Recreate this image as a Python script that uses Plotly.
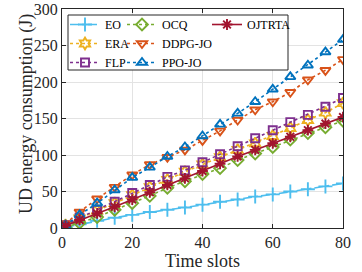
import plotly.graph_objects as go

x_slots = [1, 5, 10, 15, 20, 25, 30, 35, 40, 45, 50, 55, 60, 65, 70, 75, 80]
eo = [1, 5, 10, 14, 18, 22, 25, 28, 32, 36, 39, 43, 46, 50, 53, 57, 61]
era = [4, 13, 24, 34, 45, 56, 66, 77, 87, 97, 107, 116, 126, 137, 148, 158, 171]
flp = [4, 14, 25, 36, 48, 59, 70, 79, 90, 101, 112, 123, 134, 145, 155, 166, 178]
ocq = [1, 7, 15, 25, 34, 44, 55, 64, 74, 82, 93, 102, 111, 121, 130, 138, 147]
ddpg = [6, 22, 40, 56, 73, 87, 97, 107, 120, 133, 148, 162, 173, 186, 203, 216, 231]
ppo = [4, 18, 34, 52, 69, 83, 98, 111, 126, 142, 157, 173, 190, 207, 223, 241, 258]
ojtrta = [3, 11, 20, 29, 39, 49, 59, 68, 78, 88, 98, 107, 116, 125, 134, 143, 152]

x_ticks = [0, 20, 40, 60, 80]
y_ticks = [0, 50, 100, 150, 200, 250, 300]

series = [
    ("EO", eo, "#4DBEEE", "cross-thin-open", 10, "dashdot", "legend"),
    ("ERA", era, "#EDB120", "hexagram-open", 9, "dot", "legend"),
    ("FLP", flp, "#7E2F8E", "square-open", 8, "dot", "legend"),
    ("OCQ", ocq, "#77AC30", "diamond-open", 9, "dot", "legend2"),
    ("DDPG-JO", ddpg, "#D95319", "triangle-down-open", 9, "dot", "legend2"),
    ("PPO-JO", ppo, "#0072BD", "triangle-up-open", 9, "dot", "legend2"),
    ("OJTRTA", ojtrta, "#A2142F", "asterisk-open", 9, "solid", "legend3"),
]

fig = go.Figure()
for name, vals, col, sym, sz, dash, lg in series:
    fig.add_trace(go.Scatter(
        x=x_slots, y=vals, name=name, mode="lines+markers",
        line=dict(color=col, width=1.6, dash=dash),
        marker=dict(symbol=sym, size=sz, color=col, line=dict(color=col, width=1.9)),
        legend=lg,
    ))

W, H = 362, 272
L, R, T, B = 62, 19, 9, 44
pw, ph = W - L - R, H - T - B

def px2x(p):
    return (p - L) / pw

def px2y(p):
    return 1 - (p - T) / ph

font = dict(family="Liberation Serif", color="#262626")
leg_common = dict(orientation="v", bgcolor="rgba(0,0,0,0)", borderwidth=0,
                  font=dict(family="Liberation Serif", size=12, color="#000000"),
                  yanchor="top", xanchor="left", itemwidth=30, tracegroupgap=0)

fig.update_layout(
    width=W, height=H,
    margin=dict(l=L, r=R, t=T, b=B, pad=0, autoexpand=False),
    paper_bgcolor="white", plot_bgcolor="white",
    font=font,
    legend=dict(x=px2x(65), y=px2y(10), **leg_common),
    legend2=dict(x=px2x(122), y=px2y(10), **leg_common),
    legend3=dict(x=px2x(207), y=px2y(10), **leg_common),
    shapes=[dict(type="rect", xref="paper", yref="paper",
                 x0=px2x(68), x1=px2x(288), y0=px2y(70), y1=px2y(15),
                 line=dict(color="#262626", width=1), fillcolor="white", layer="above")],
    annotations=[dict(text="UD energy consumption (J)", xref="paper", yref="paper",
                      x=px2x(27), y=px2y(114), xanchor="center", yanchor="middle",
                      textangle=-90, showarrow=False,
                      font=dict(family="Liberation Serif", size=18, color="#262626"))],
)

fig.update_xaxes(
    range=[0, 80], tickvals=x_ticks, ticks="inside", ticklen=4, tickcolor="#262626",
    showline=True, linecolor="#262626", linewidth=1, mirror="ticks",
    showgrid=True, gridcolor="#e3e3e3", gridwidth=1, zeroline=False,
    tickfont=dict(family="Liberation Serif", size=16, color="#262626"),
    title=dict(text="Time slots", font=dict(family="Liberation Serif", size=18, color="#262626"), standoff=2),
)
fig.update_yaxes(
    range=[0, 300], tickvals=y_ticks, ticks="inside", ticklen=4, tickcolor="#262626",
    showline=True, linecolor="#262626", linewidth=1, mirror="ticks",
    showgrid=True, gridcolor="#e3e3e3", gridwidth=1, zeroline=False,
    tickfont=dict(family="Liberation Serif", size=16, color="#262626"),
)

fig.write_html("out.html", config={"displayModeBar": False},
               post_script="document.body.style.margin='0';document.body.style.overflow='hidden';")
